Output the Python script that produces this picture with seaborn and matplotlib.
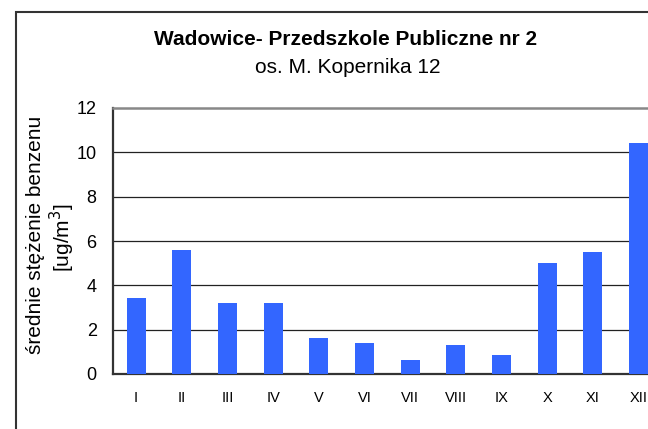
import matplotlib
matplotlib.use("Agg")
import matplotlib.pyplot as plt
import matplotlib.patches as patches
import pandas as pd
import seaborn as sns

months = ["I", "II", "III", "IV", "V", "VI", "VII", "VIII", "IX", "X", "XI", "XII"]
benzen = [3.43, 5.6, 3.2, 3.2, 1.62, 1.4, 0.63, 1.31, 0.86, 5.0, 5.5, 10.42]
y_ticks = [0, 2, 4, 6, 8, 10, 12]

df = pd.DataFrame({"miesiac": months, "benzen": benzen})

sns.set_style("white")
plt.rcParams["font.family"] = ["Liberation Sans", "DejaVu Sans"]
plt.rcParams["text.color"] = "black"
plt.rcParams["axes.labelcolor"] = "black"
plt.rcParams["xtick.color"] = "black"
plt.rcParams["ytick.color"] = "black"

W, H = 648, 429
fig = plt.figure(figsize=(W / 100, H / 100), dpi=100)
ax = fig.add_axes([113.3 / W, 55 / H, 548 / W, 266 / H])

sns.barplot(data=df, x="miesiac", y="benzen", color="#3366FF", saturation=1,
            width=0.42, linewidth=0, ax=ax, zorder=3)

ax.set_xlim(-0.5, 11.5)
ax.set_ylim(0, 12)
ax.set_yticks(y_ticks)
ax.set_yticklabels([str(t) for t in y_ticks], fontsize=13)
ax.tick_params(axis="y", length=5, width=1, pad=7, color="#333333")
ax.tick_params(axis="x", length=0, pad=12, labelsize=10.5)

for t in y_ticks[1:-1]:
    ax.axhline(t, color="#222222", lw=0.9, zorder=1)

for s in ["left", "bottom"]:
    ax.spines[s].set_color("#333333")
    ax.spines[s].set_linewidth(1.6)
ax.spines["top"].set_color("#888888")
ax.spines["top"].set_linewidth(1.8)
ax.spines["right"].set_visible(False)

ax.set_xlabel("")
ax.set_ylabel("")

# y label in two lines, like the original
fig.text(36 / W, 1 - 235 / H, "średnie stężenie benzenu", rotation=90,
         ha="center", va="center", fontsize=15)
fig.text(62.5 / W, 1 - 237.5 / H, "[ug/m$^3$]", rotation=90,
         ha="center", va="center", fontsize=15)

fig.text(345.5 / W, 1 - 45 / H, "Wadowice- Przedszkole Publiczne nr 2",
         ha="center", va="baseline", fontsize=15, fontweight="bold")
fig.text(347.5 / W, 1 - 73.3 / H, "os. M. Kopernika 12",
         ha="center", va="baseline", fontsize=15)

frame = patches.Rectangle((15.5 / W, -0.2), 1.2, 1.2 - 12 / H,
                          transform=fig.transFigure, fill=False,
                          edgecolor="#333333", lw=1.5, clip_on=False)
fig.patches.append(frame)

fig.savefig("out.png", dpi=100)
